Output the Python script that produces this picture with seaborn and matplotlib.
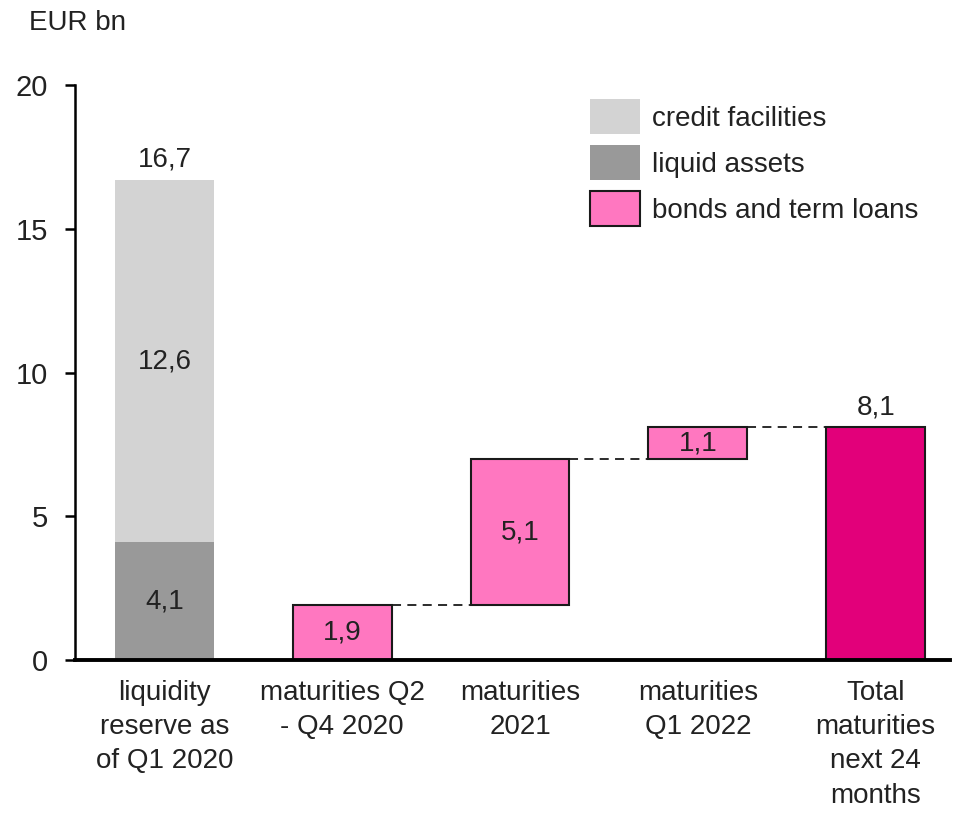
import numpy as np
import pandas as pd
import matplotlib
matplotlib.use('Agg')
import matplotlib.pyplot as plt
from matplotlib.patches import Patch
import seaborn as sns

categories = ['liquidity\nreserve as\nof Q1 2020', 'maturities Q2\n- Q4 2020',
              'maturities\n2021', 'maturities\nQ1 2022', 'Total\nmaturities\nnext 24\nmonths']
liquid_assets = 4.1
credit_facilities = 12.6
reserve_total = 16.7
maturities = [1.9, 5.1, 1.1]
total_maturities = 8.1

c_credit = '#d3d3d3'
c_liquid = '#999999'
c_bonds = '#ff77c0'
c_total = '#e2007a'

sns.set_theme(style='white')
plt.rcParams['font.family'] = ['Liberation Sans', 'DejaVu Sans']
fs = 20

fig = plt.figure(figsize=(9.57, 8.17), dpi=100)
ax = fig.add_axes([0.078, 0.192, 0.915, 0.704])
w = 0.555

sns.barplot(x=[categories[0]], y=[reserve_total], order=categories, color=c_credit,
            width=w, ax=ax, linewidth=0, saturation=1)
sns.barplot(x=[categories[0]], y=[liquid_assets], order=categories, color=c_liquid,
            width=w, ax=ax, linewidth=0, saturation=1)

n0 = len(ax.patches)
sns.barplot(x=categories[1:4], y=maturities, order=categories, color=c_bonds,
            width=w, ax=ax, edgecolor='#1a1a1a', linewidth=1.5, saturation=1)
bases = np.concatenate([[0], np.cumsum(maturities)[:-1]])
for p, b in zip(ax.patches[n0:], bases):
    p.set_y(b)

sns.barplot(x=[categories[4]], y=[total_maturities], order=categories, color=c_total,
            width=w, ax=ax, edgecolor='#1a1a1a', linewidth=1.5, saturation=1)

# connectors
tops = np.cumsum(maturities)
for i, t in enumerate(tops):
    ax.plot([i + 1 + w / 2, i + 2 - w / 2], [t, t], color='#1a1a1a', lw=1.3,
            ls=(0, (5, 3.5)))

def fmt(v):
    return f'{v:.1f}'.replace('.', ',')

txt = '#222222'
ax.text(0, reserve_total + 0.25, fmt(reserve_total), ha='center', va='bottom', fontsize=fs, color=txt)
ax.text(0, liquid_assets + credit_facilities / 2, fmt(credit_facilities), ha='center', va='center', fontsize=fs, color=txt)
ax.text(0, liquid_assets / 2, fmt(liquid_assets), ha='center', va='center', fontsize=fs, color=txt)
for i, (b, v) in enumerate(zip(bases, maturities)):
    ax.text(i + 1, b + v / 2, fmt(v), ha='center', va='center', fontsize=fs, color=txt)
ax.text(4, total_maturities + 0.25, fmt(total_maturities), ha='center', va='bottom', fontsize=fs, color=txt)

ax.set_ylim(0, 20)
ax.set_xlim(-0.505, 4.42)
ax.set_yticks([0, 5, 10, 15, 20])
ax.set_xlabel('')
ax.set_ylabel('')
sns.despine(ax=ax)
ax.spines['left'].set_color('black')
ax.spines['left'].set_linewidth(1.8)
ax.spines['bottom'].set_color('black')
ax.spines['bottom'].set_linewidth(2.8)
ax.tick_params(axis='y', which='major', left=True, length=7, width=1.8, color='black',
               labelsize=21, labelcolor=txt, pad=12)
ax.tick_params(axis='x', bottom=False, labelsize=fs, labelcolor=txt, pad=8)
for lbl in ax.get_xticklabels():
    lbl.set_linespacing(1.42)

handles = [Patch(facecolor=c_credit, edgecolor='none', label='credit facilities'),
           Patch(facecolor=c_liquid, edgecolor='none', label='liquid assets'),
           Patch(facecolor=c_bonds, edgecolor='#1a1a1a', linewidth=1.5, label='bonds and term loans')]
ax.legend(handles=handles, loc='upper left', bbox_to_anchor=(0.589, 0.975), frameon=False,
          fontsize=fs, handlelength=1.8, handleheight=1.55, labelspacing=0.4, handletextpad=0.4,
          borderpad=0, borderaxespad=0, labelcolor=txt)

fig.text(0.03, 0.972, 'EUR bn', fontsize=fs, color=txt, va='center')

fig.savefig('out.png', dpi=100)
